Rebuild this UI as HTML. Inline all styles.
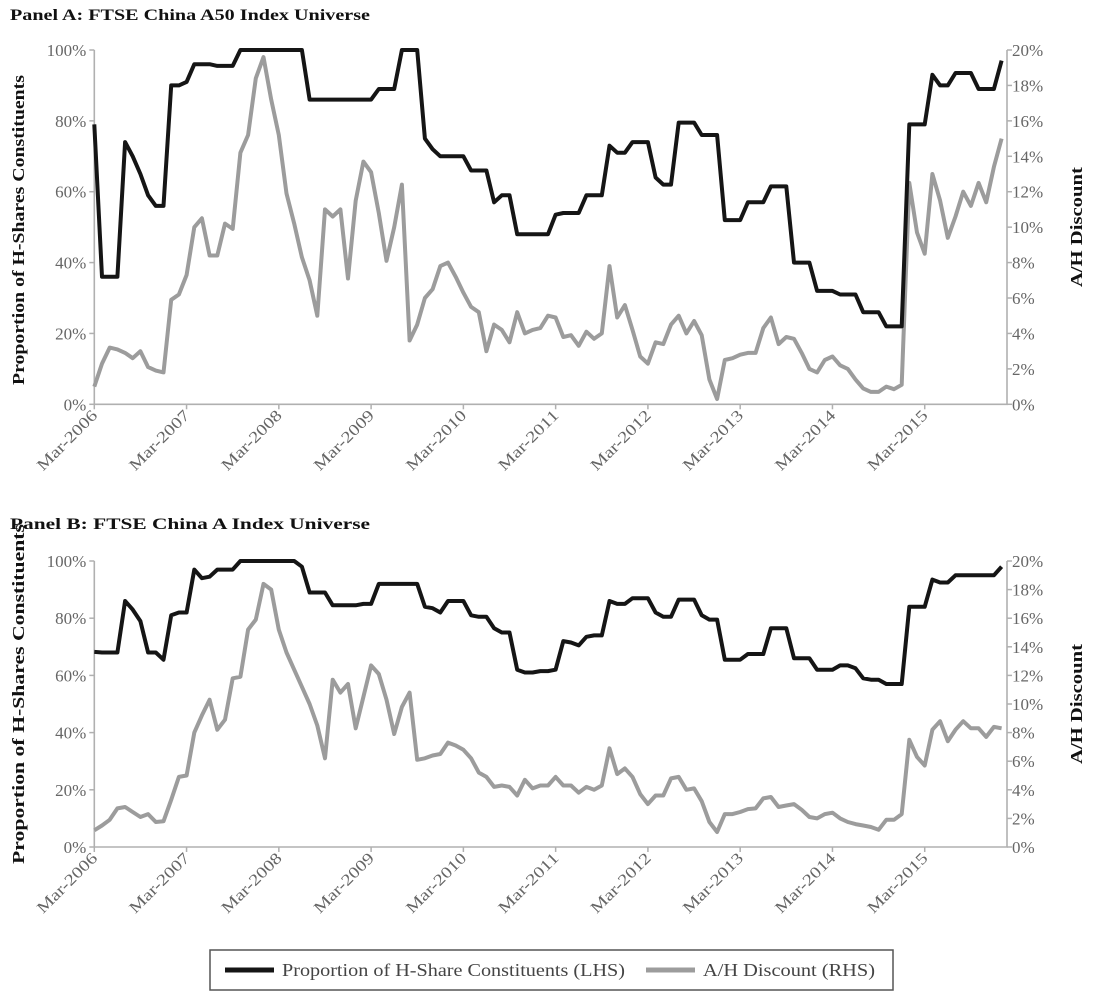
<!DOCTYPE html>
<html><head><meta charset="utf-8"><style>
html,body{margin:0;padding:0;background:#fff;}
svg{display:block;font-family:"Liberation Serif",serif;}
</style></head><body>
<svg id="chart" width="1107" height="993" viewBox="0 0 1107 993" xmlns="http://www.w3.org/2000/svg"></svg>
<script>
const xTickLabels = ["Mar-2006","Mar-2007","Mar-2008","Mar-2009","Mar-2010","Mar-2011","Mar-2012","Mar-2013","Mar-2014","Mar-2015"];
const leftTickLabels = ["0%","20%","40%","60%","80%","100%"];
const rightTickLabels = ["0%","2%","4%","6%","8%","10%","12%","14%","16%","18%","20%"];
const hShareA = [79,36,36,36,74,70,65,59,56,56,90,90,91,96,96,96,95.5,95.5,95.5,100,100,100,100,100,100,100,100,100,86,86,86,86,86,86,86,86,86,89,89,89,100,100,100,75,72,70,70,70,70,66,66,66,57,59,59,48,48,48,48,48,53.5,54,54,54,59,59,59,73,71,71,74,74,74,64,62,62,79.5,79.5,79.5,76,76,76,52,52,52,57,57,57,61.5,61.5,61.5,40,40,40,32,32,32,31,31,31,26,26,26,22,22,22,79,79,79,93,90,90,93.5,93.5,93.5,89,89,89,97];
const discountA = [1.0,2.3,3.2,3.1,2.9,2.6,3.0,2.1,1.9,1.8,5.9,6.2,7.3,10.0,10.5,8.4,8.4,10.2,9.9,14.2,15.2,18.4,19.6,17.2,15.2,11.9,10.2,8.3,7.0,5.0,11.0,10.6,11.0,7.1,11.5,13.7,13.1,10.8,8.1,10.0,12.4,3.6,4.5,6.0,6.5,7.8,8.0,7.2,6.3,5.5,5.2,3.0,4.5,4.2,3.5,5.2,4.0,4.2,4.3,5.0,4.9,3.8,3.9,3.3,4.1,3.7,4.0,7.8,4.9,5.6,4.2,2.7,2.3,3.5,3.4,4.5,5.0,4.0,4.7,3.9,1.4,0.3,2.5,2.6,2.8,2.9,2.9,4.3,4.9,3.4,3.8,3.7,2.9,2.0,1.8,2.5,2.7,2.2,2.0,1.4,0.9,0.7,0.7,1.0,0.85,1.1,12.5,9.7,8.5,13.0,11.5,9.4,10.6,12.0,11.2,12.5,11.4,13.4,15.0];
const hShareB = [68.2,68,68,68,86,83,79,68,68,65.5,81,82,82,97,94,94.5,97,97,97,100,100,100,100,100,100,100,100,98,89,89,89,84.5,84.5,84.5,84.5,85,85,92,92,92,92,92,92,84,83.5,82,86,86,86,81,80.5,80.5,76.5,75,75,62,61,61,61.5,61.5,62,72,71.5,70.5,73.5,74,74,86,85,85,87,87,87,82,80.5,80.5,86.5,86.5,86.5,81,79.5,79.5,65.5,65.5,65.5,67.5,67.5,67.5,76.5,76.5,76.5,66,66,66,62,62,62,63.5,63.5,62.5,59,58.5,58.5,57,57,57,84,84,84,93.5,92.5,92.5,95,95,95,95,95,95,98];
const discountB = [1.17,1.5,1.9,2.7,2.8,2.45,2.1,2.3,1.75,1.8,3.3,4.9,5.0,8.0,9.2,10.3,8.2,8.9,11.8,11.9,15.2,15.9,18.4,18.0,15.2,13.6,12.4,11.2,10.0,8.5,6.2,11.7,10.8,11.4,8.3,10.5,12.7,12.1,10.3,7.9,9.8,10.8,6.1,6.2,6.4,6.5,7.3,7.1,6.8,6.2,5.2,4.9,4.2,4.3,4.2,3.6,4.7,4.1,4.3,4.3,4.9,4.3,4.3,3.8,4.2,4.0,4.3,6.9,5.1,5.5,4.9,3.7,3.0,3.6,3.6,4.8,4.9,4.0,4.1,3.2,1.75,1.05,2.3,2.3,2.45,2.65,2.7,3.4,3.5,2.8,2.9,3.0,2.6,2.1,2.0,2.3,2.4,2.0,1.75,1.6,1.5,1.4,1.2,1.9,1.9,2.3,7.5,6.3,5.7,8.2,8.8,7.4,8.2,8.8,8.3,8.3,7.7,8.4,8.3];

const NS = "http://www.w3.org/2000/svg";
const svg = document.getElementById('chart');
function mk(tag, attrs, parent){const e=document.createElementNS(NS,tag);for(const k in attrs)e.setAttribute(k,attrs[k]);(parent||svg).appendChild(e);return e;}

const X0 = 94.3, X1 = 1007, MMAX = 118.7;
function xScale(m){return X0 + (X1 - X0) * m / MMAX;}

function panel(key, title, titleY, top, bottom, lhs, rhs, lTitleMid, lTitleLen){
  const g = mk('g', {});
  
  
  const yL = v => bottom - (bottom - top) * v / 100;
  const yR = v => bottom - (bottom - top) * v / 20;
  const t = mk('text', {x:10, y:titleY, 'font-size':16, 'font-weight':'bold', fill:'#111', textLength:360, lengthAdjust:'spacingAndGlyphs'}, g);
  t.textContent = title;
  
  
  const ax = mk('path', {d:`M${X0},${top} L${X0},${bottom} L${X1},${bottom} L${X1},${top}`, fill:'none', stroke:'#b0b0b0', 'stroke-width':1.6}, g);
  
  
  leftTickLabels.forEach((lab, i) => {
    const v = i * 20, y = yL(v);
    mk('line', {x1:X0-5, x2:X0, y1:y, y2:y, stroke:'#b0b0b0', 'stroke-width':1.5}, g);
    const tx = mk('text', {x:X0-8, y:y+6, 'font-size':17, fill:'#666', 'text-anchor':'end'}, g);
    tx.textContent = lab;
    
    
  });
  rightTickLabels.forEach((lab, i) => {
    const v = i * 2, y = yR(v);
    mk('line', {x1:X1, x2:X1+5, y1:y, y2:y, stroke:'#b0b0b0', 'stroke-width':1.5}, g);
    const tx = mk('text', {x:X1+5, y:y+6, 'font-size':17, fill:'#666'}, g);
    tx.textContent = lab;
    
    
  });
  xTickLabels.forEach((lab, i) => {
    const x = xScale(i * 12);
    mk('line', {x1:x, x2:x, y1:bottom, y2:bottom+5, stroke:'#b0b0b0', 'stroke-width':1.5}, g);
    const tx = mk('text', {x:x+4, y:bottom+12, 'font-size':16, fill:'#666', 'text-anchor':'end', transform:`rotate(-45 ${x+4} ${bottom+12})`, textLength:78, lengthAdjust:'spacingAndGlyphs'}, g);
    tx.textContent = lab;
    
    
  });
  const mid = (top + bottom) / 2;
  const lt = mk('text', {x:0, y:0, 'font-size':17, 'font-weight':'bold', fill:'#111', 'text-anchor':'middle', transform:`translate(24 ${lTitleMid}) rotate(-90)`, textLength:lTitleLen, lengthAdjust:'spacingAndGlyphs'}, g);
  lt.textContent = 'Proportion of H-Shares Constituents';
  
  
  const rt = mk('text', {x:0, y:0, 'font-size':17, 'font-weight':'bold', fill:'#111', 'text-anchor':'middle', transform:`translate(1082 ${mid}) rotate(-90)`, textLength:120, lengthAdjust:'spacingAndGlyphs'}, g);
  rt.textContent = 'A/H Discount';
  
  
  const gp = mk('path', {d: rhs.map((v,i)=>(i?'L':'M')+xScale(i).toFixed(1)+','+yR(v).toFixed(1)).join(''), fill:'none', stroke:'#9c9c9c', 'stroke-width':4, 'stroke-linejoin':'round'}, g);
  
  
  const bp = mk('path', {d: lhs.map((v,i)=>(i?'L':'M')+xScale(i).toFixed(1)+','+yL(v).toFixed(1)).join(''), fill:'none', stroke:'#151515', 'stroke-width':4, 'stroke-linejoin':'round'}, g);
  
  
}
panel('a', 'Panel A: FTSE China A50 Index Universe', 20, 50, 404.3, hShareA, discountA, 230, 310);
panel('b', 'Panel B: FTSE China A Index Universe', 529, 561, 847, hShareB, discountB, 694, 340);

const lg = mk('g', {});


mk('rect', {x:210, y:950, width:683, height:40, fill:'#fff', stroke:'#555', 'stroke-width':1.5}, lg);
mk('line', {x1:225, x2:274, y1:970, y2:970, stroke:'#151515', 'stroke-width':5}, lg);
const l1 = mk('text', {x:282, y:976, 'font-size':18, fill:'#444', textLength:343, lengthAdjust:'spacingAndGlyphs'}, lg);
l1.textContent = 'Proportion of H-Share Constituents (LHS)';


mk('line', {x1:646, x2:695, y1:970, y2:970, stroke:'#9c9c9c', 'stroke-width':5}, lg);
const l2 = mk('text', {x:703, y:976, 'font-size':18, fill:'#444', textLength:172, lengthAdjust:'spacingAndGlyphs'}, lg);
l2.textContent = 'A/H Discount (RHS)';


</script>
</body></html>
